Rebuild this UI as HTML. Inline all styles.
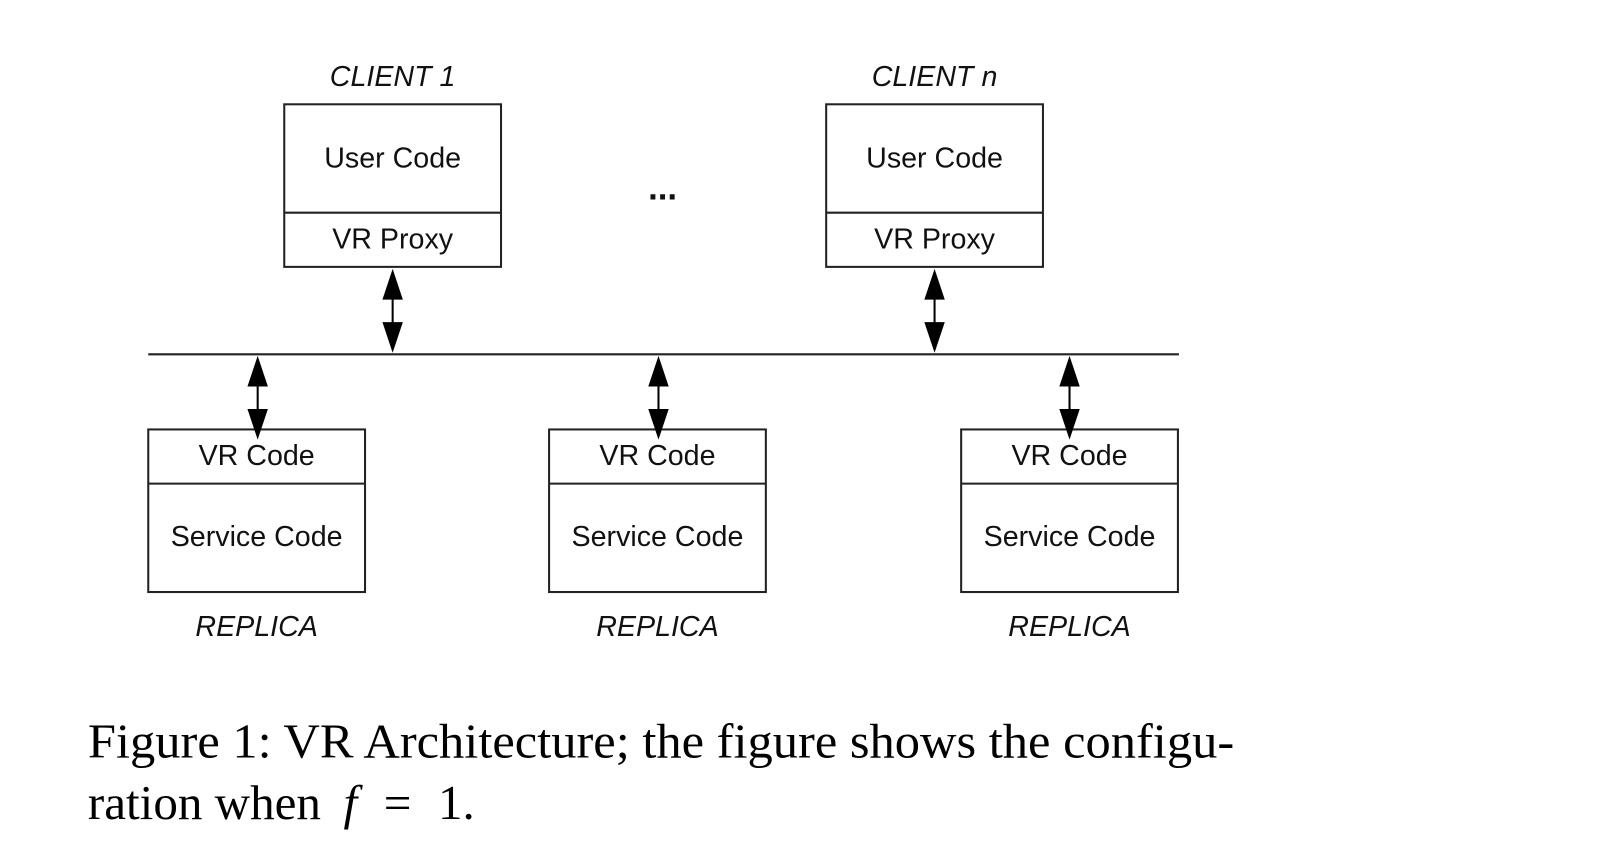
<!DOCTYPE html>
<html><head><style>body{margin:0;background:#fff}svg{display:block}</style></head><body>
<svg width="1600" height="860" xmlns="http://www.w3.org/2000/svg">
<defs>
<g id="ar"><line x1="0" y1="20" x2="0" y2="60" stroke="#000" stroke-width="2"/><path d="M0,0 L-10,30 L10,30z M0,82 L-10,52 L10,52z" fill="#000"/></g>
</defs>
<g transform="scale(1.0225)">
<g font-family="Liberation Sans, Arial, sans-serif" font-size="28" fill="#111" text-anchor="middle">
<g fill="none" stroke="#222" stroke-width="2">
<rect x="278" y="102" width="212" height="159"/><line x1="278" y1="208" x2="490" y2="208"/>
<rect x="808" y="102" width="212" height="159"/><line x1="808" y1="208" x2="1020" y2="208"/>
<rect x="145" y="420" width="212" height="159"/><line x1="145" y1="473" x2="357" y2="473"/>
<rect x="537" y="420" width="212" height="159"/><line x1="537" y1="473" x2="749" y2="473"/>
<rect x="940" y="420" width="212" height="159"/><line x1="940" y1="473" x2="1152" y2="473"/>
<line x1="145" y1="346.5" x2="1153" y2="346.5"/>
</g>
<use href="#ar" x="384" y="263"/>
<use href="#ar" x="914" y="263"/>
<use href="#ar" x="252" y="348"/>
<use href="#ar" x="644" y="348"/>
<use href="#ar" x="1046" y="348"/>
<text x="384" y="84" font-style="italic">CLIENT 1</text>
<text x="914" y="84" font-style="italic">CLIENT n</text>
<text x="384" y="164">User Code</text>
<text x="384" y="243">VR Proxy</text>
<text x="914" y="164">User Code</text>
<text x="914" y="243">VR Proxy</text>
<text x="648" y="195" font-size="34" font-weight="bold">...</text>
<text x="251" y="455">VR Code</text><text x="251" y="534">Service Code</text><text x="251" y="622" font-style="italic">REPLICA</text>
<text x="643" y="455">VR Code</text><text x="643" y="534">Service Code</text><text x="643" y="622" font-style="italic">REPLICA</text>
<text x="1046" y="455">VR Code</text><text x="1046" y="534">Service Code</text><text x="1046" y="622" font-style="italic">REPLICA</text>
</g>
<g font-family="Liberation Serif, Times New Roman, serif" font-size="48" fill="#000">
<text x="86" y="741" textLength="1121" lengthAdjust="spacingAndGlyphs">Figure 1: VR Architecture; the figure shows the configu-</text>
<text x="86" y="801">ration when <tspan dx="10" font-style="italic">f</tspan><tspan dx="26">=</tspan><tspan dx="26">1.</tspan></text>
</g>
</g>
</svg>
</body></html>
